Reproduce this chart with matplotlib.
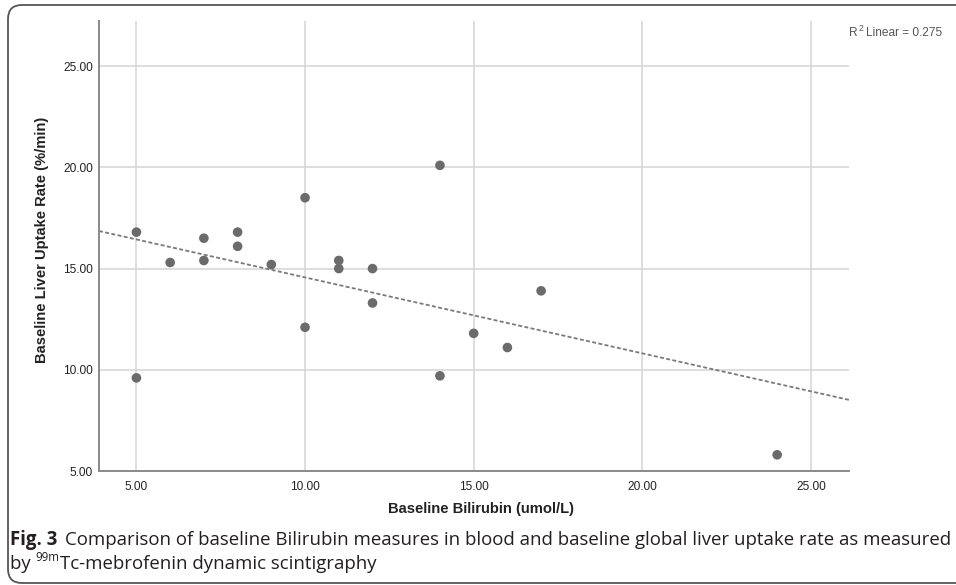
import numpy as np
import matplotlib
matplotlib.use("Agg")
import matplotlib.pyplot as plt
from matplotlib.patches import FancyBboxPatch

# ---- data ----
bilirubin = [5, 5, 6, 7, 7, 8, 8, 9, 10, 10, 11, 11, 12, 12, 14, 14, 15, 16, 17, 24]
uptake = [16.8, 9.6, 15.3, 16.5, 15.4, 16.8, 16.1, 15.2, 18.5, 12.1,
          15.4, 15.0, 15.0, 13.3, 20.1, 9.7, 11.8, 11.1, 13.9, 5.8]
x_ticks = [5, 10, 15, 20, 25]
y_ticks = [5, 10, 15, 20, 25]
r2_text = "0.275"
x_label = "Baseline Bilirubin (umol/L)"
y_label = "Baseline Liver Uptake Rate (%/min)"
cap_bold = "Fig. 3"
cap_line1 = "Comparison of baseline Bilirubin measures in blood and baseline global liver uptake rate as measured"
cap_line2_a = "by "
cap_line2_sup = "99m"
cap_line2_b = "Tc-mebrofenin dynamic scintigraphy"

W, H = 956, 585
fig = plt.figure(figsize=(W / 100, H / 100), dpi=100)
fig.patch.set_facecolor("white")

chart_font = "Liberation Sans"
cap_font = "Open Sans"

# axes box in pixel terms: left 99, right 849, top 21, bottom 471
ax = fig.add_axes([99 / W, 1 - 471 / H, 750 / W, 450 / H])
ax.set_xlim(3.89, 26.13)
ax.set_ylim(5.0, 27.23)

ax.set_xticks(x_ticks)
ax.set_yticks(y_ticks)
ax.set_xticklabels([f"{v:.2f}" for v in x_ticks], fontfamily=chart_font, fontsize=8.6, color="#222222")
ax.set_yticklabels([f"{v:.2f}" for v in y_ticks], fontfamily=chart_font, fontsize=8.6, color="#222222")
ax.tick_params(axis="both", length=0)
ax.tick_params(axis="x", pad=7)
ax.tick_params(axis="y", pad=4.5)

ax.grid(True, color="#d4d4d4", linewidth=1.1)
ax.set_axisbelow(True)
for s in ["top", "right"]:
    ax.spines[s].set_visible(False)
for s in ["left", "bottom"]:
    ax.spines[s].set_color("#8a8a8a")
    ax.spines[s].set_linewidth(1.4)

# regression line
slope, intercept = np.polyfit(bilirubin, uptake, 1)
xl = np.array(ax.get_xlim())
ax.plot(xl, slope * xl + intercept, color="#7a7a7a", linewidth=1.3,
        linestyle=(0, (2.2, 1.3)), zorder=2)

ax.scatter(bilirubin, uptake, s=48, color="#6b6b6b", edgecolors="none", zorder=3)

# axis labels
fig.text(481 / W, 1 - 509 / H, x_label, ha="center", va="center",
         fontfamily=chart_font, fontweight="bold", fontsize=10.6, color="#222222")
fig.text(42 / W, 1 - 240 / H, y_label, ha="center", va="center", rotation=90,
         fontfamily=chart_font, fontweight="bold", fontsize=10.6, color="#222222")

renderer = fig.canvas.get_renderer()

# R^2 label (R, superscript 2, rest)
r2_color = "#555555"
r2_fs = 8.6
r2_base = H - 36
tr = fig.text(849 / W, r2_base / H, "R", fontfamily=chart_font, fontsize=r2_fs,
              color=r2_color, va="baseline", ha="left")
wr = tr.get_window_extent(renderer).width
t2 = fig.text((849 + wr + 0.5) / W, (r2_base + 5) / H, "2", fontfamily=chart_font,
              fontsize=r2_fs * 0.72, color=r2_color, va="baseline", ha="left")
w2 = t2.get_window_extent(renderer).width
fig.text((849 + wr + w2 + 3) / W, r2_base / H, "Linear = " + r2_text, fontfamily=chart_font,
         fontsize=r2_fs, color=r2_color, va="baseline", ha="left")

# caption (fit width to the reference)
cap_color = "#231f20"
x0_px = 10
right_px = 944
base1 = H - 545
base2 = H - 569

def draw_caption(fs):
    t1 = fig.text(x0_px / W, base1 / H, cap_bold, fontfamily=cap_font, fontweight="bold",
                  fontsize=fs, color=cap_color, va="baseline", ha="left")
    w1 = t1.get_window_extent(renderer).width
    tt = fig.text((x0_px + w1 + fs * 0.55) / W, base1 / H, cap_line1, fontfamily=cap_font,
                  fontsize=fs, color=cap_color, va="baseline", ha="left")
    return [t1, tt]

fs = 13
texts = draw_caption(fs)
ext = texts[1].get_window_extent(renderer)
for t in texts:
    t.remove()
fs = fs * (right_px - x0_px) / (ext.x1 - x0_px)
texts = draw_caption(fs)

ta = fig.text(x0_px / W, base2 / H, cap_line2_a, fontfamily=cap_font, fontsize=fs,
              color=cap_color, va="baseline", ha="left")
wa = ta.get_window_extent(renderer).width
ts = fig.text((x0_px + wa) / W, (base2 + fs * 0.62) / H, cap_line2_sup, fontfamily=cap_font,
              fontsize=fs * 0.62, color=cap_color, va="baseline", ha="left")
ws = ts.get_window_extent(renderer).width
fig.text((x0_px + wa + ws) / W, base2 / H, cap_line2_b, fontfamily=cap_font, fontsize=fs,
         color=cap_color, va="baseline", ha="left")

# outer rounded frame
frame = FancyBboxPatch((8, 2), 1000, H - 7, boxstyle="round,pad=0,rounding_size=14",
                       transform=None, fill=False, edgecolor="#555555", linewidth=1.3)
fig.add_artist(frame)

fig.savefig("out.png", dpi=100)
